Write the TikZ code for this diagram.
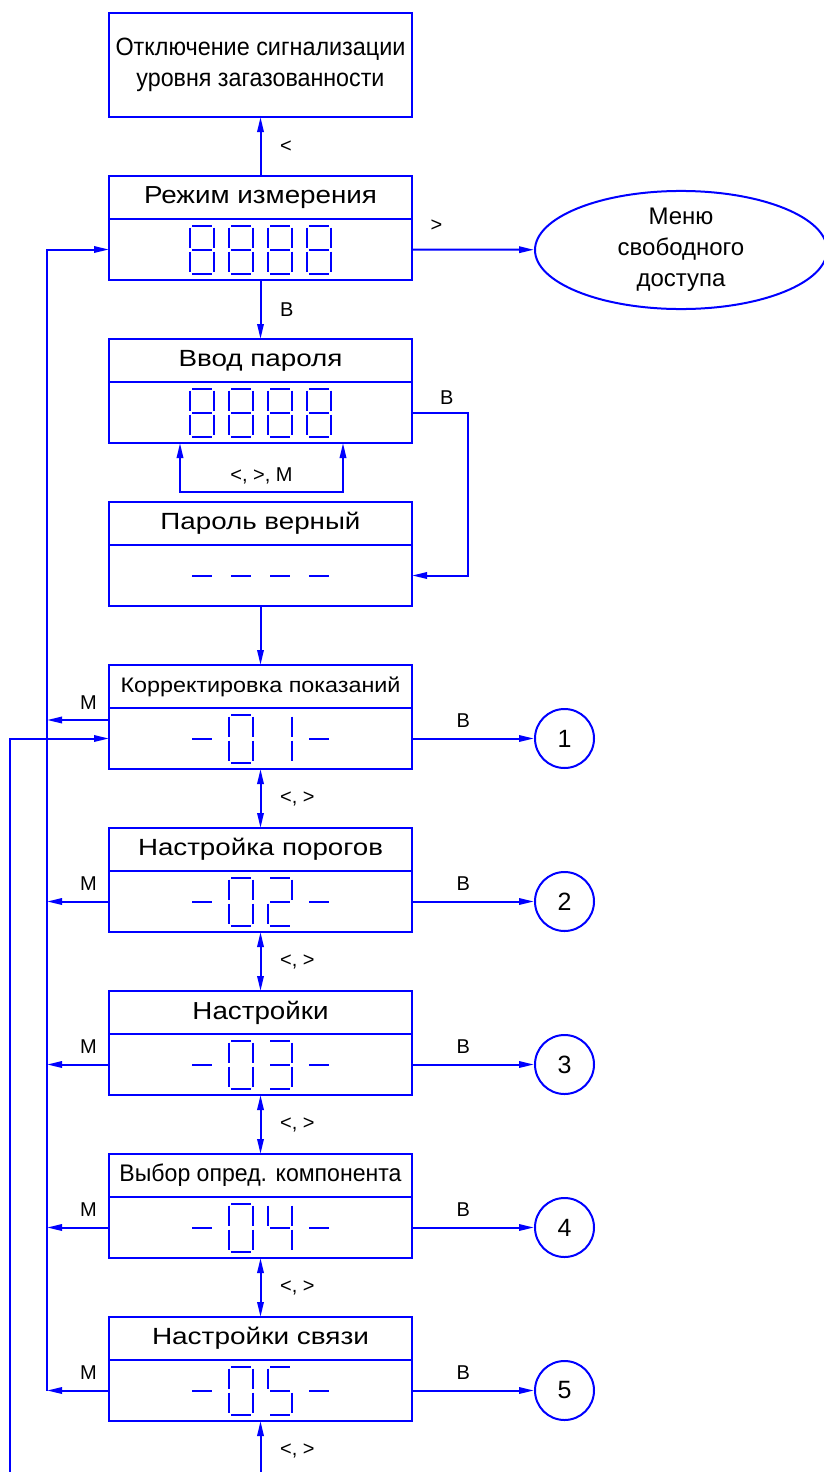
\documentclass[tikz,border=0pt]{standalone}
\usepackage{fontspec}
\setmainfont{Liberation Sans}
\usetikzlibrary{positioning,arrows.meta,shapes.geometric}
\tikzset{frame/.style={draw=blue,line width=1pt,minimum width=151.5pt,inner sep=0pt,outer sep=0pt}}
\tikzset{head/.style={frame,minimum height=21.5pt}}
\tikzset{body/.style={frame,minimum height=30.5pt}}
\tikzset{wire/.style={draw=blue,line width=1pt}}
\tikzset{conn/.style={wire,-{Triangle[length=7.5pt,width=3.2pt]}}}
\tikzset{conn2/.style={wire,{Triangle[length=7.5pt,width=3.2pt]}-{Triangle[length=7.5pt,width=3.2pt]}}}
\tikzset{seg/.style={blue,line width=1pt}}
\tikzset{lbl/.style={font=\fontsize{10}{12}\selectfont,text=black}}
\tikzset{port/.style={circle,draw=blue,line width=1pt,minimum size=29.5pt,inner sep=0pt,font=\fontsize{12.5}{14}\selectfont}}

\newcommand{\fitw}[2]{\resizebox{#1}{\height}{#2}}
% seven segments, y down
\def\sga{(-10,-24) -- (10,-24)}
\def\sgb{(12,-22) -- (12,-2)}
\def\sgc{(12,2) -- (12,22)}
\def\sgd{(-10,24) -- (10,24)}
\def\sge{(-12,2) -- (-12,22)}
\def\sgf{(-12,-22) -- (-12,-2)}
\def\sgg{(-10,0) -- (10,0)}
\expandafter\def\csname dg8\endcsname{a,b,c,d,e,f,g}
\expandafter\def\csname dg-\endcsname{g}
\expandafter\def\csname dg0\endcsname{a,b,c,d,e,f}
\expandafter\def\csname dg1\endcsname{b,c}
\expandafter\def\csname dg2\endcsname{a,b,g,e,d}
\expandafter\def\csname dg3\endcsname{a,b,g,c,d}
\expandafter\def\csname dg4\endcsname{f,g,b,c}
\expandafter\def\csname dg5\endcsname{a,f,g,c,d}
\newcommand{\lcd}[2]{%
  \foreach \ch [count=\n] in {#2} {
    \edef\segs{\csname dg\ch\endcsname}
    \foreach \q in \segs
      \draw[seg,shift={#1},shift={(\n*39-97.5,0)}] \csname sg\q\endcsname;
  }}

\begin{document}
\begin{tikzpicture}[x=0.5pt,y=-0.5pt]
  \useasboundingbox (0,0) rectangle (824,1472);

  \node[frame,minimum height=52pt,align=center,font=\fontsize{12.5}{15.5}\selectfont] (off) at (260.5,65)
    {\fitw{145pt}{Отключение сигнализации}\\\fitw{124pt}{уровня загазованности}};

  \node[head,font=\fontsize{12.3}{14}\selectfont] (rh) at (260.5,197.5) {\fitw{116.5pt}{Режим измерения}};
  \node[body,below=0pt of rh] (rd) {};
  \lcd{(rd)}{8,8,8,8}

  \node[head,font=\fontsize{11.7}{14}\selectfont] (vh) at (260.5,360.5) {\fitw{82pt}{Ввод пароля}};
  \node[body,below=0pt of vh] (vd) {};
  \lcd{(vd)}{8,8,8,8}

  \node[head,font=\fontsize{11.7}{14}\selectfont] (ph) at (260.5,523.5) {\fitw{100pt}{Пароль верный}};
  \node[body,below=0pt of ph] (pd) {};
  \lcd{(pd)}{-,-,-,-}

  \node[ellipse,draw=blue,line width=1pt,minimum width=146pt,minimum height=58pt,inner sep=0pt,
    align=center,font=\fontsize{12}{15.5}\selectfont] (free) at (681,250) {Меню\\свободного\\доступа};

  % menu items
  \foreach \t/\w/\f [count=\i] in {Корректировка показаний/140/10.5,Настройка порогов/122.5/11.7,
      Настройки/68/12.3,Выбор опред. компонента/141/12,Настройки связи/108.5/11.7} {
    \node[head,font=\fontsize{\f}{14}\selectfont] (m\i) at (260.5,{686.5+163*(\i-1)}) {\fitw{\w pt}{\t}};
    \node[body,below=0pt of m\i] (s\i) {};
    \lcd{(s\i)}{-,0,\i,-}
    \node[port,right=61pt of s\i] (c\i) {\i};
    \draw[conn] (s\i.east) -- (c\i) node[lbl,above=1.5pt,pos=0.42] {В};
  }

  \coordinate (mbot) at (47,1390.5);
  \coordinate (rb) at (10,1472);
  \coordinate (lb) at (260.5,1472);
  \coordinate (vl) at (180,492);
  \coordinate (vr) at (343,492);

  \draw[conn] (rh.north) -- (off.south) node[lbl,midway,right=6pt] {<};
  \draw[conn] (rd.east) -- (free) node[lbl,pos=0.2,above=5pt] {>};
  \draw[conn] (rd.south) -- (vh.north) node[lbl,midway,right=6pt] {В};
  \draw[conn2] (vd.south -| vl) -- (vl) -- (vr) node[lbl,midway,above] {<, >, М} -- (vd.south -| vr);
  \draw[conn] (vd.east) -- ++(28pt,0) node[lbl,above,pos=0.62] {В} |- (pd.east);
  \draw[conn] (pd.south) -- (m1.north);

  \draw[conn] (mbot) |- (rd.west);
  \draw[conn] ([yshift=9.25pt]s1.west) -- ([yshift=9.25pt]s1.west -| mbot) node[lbl,above=1.5pt,pos=0.33] {М};
  \foreach \i in {2,...,5}
    \draw[conn] (s\i.west) -- (s\i.west -| mbot) node[lbl,above=1.5pt,pos=0.33] {М};
  \draw[conn] (rb) |- (s1.west);

  \foreach \i/\j in {1/2,2/3,3/4,4/5}
    \draw[conn2] (s\i.south) -- (m\j.north) node[lbl,midway,right=6pt] {<, >};
  \draw[conn] (lb) -- (s5.south) node[lbl,midway,right=6pt,yshift=-2pt] {<, >};
\end{tikzpicture}
\end{document}
